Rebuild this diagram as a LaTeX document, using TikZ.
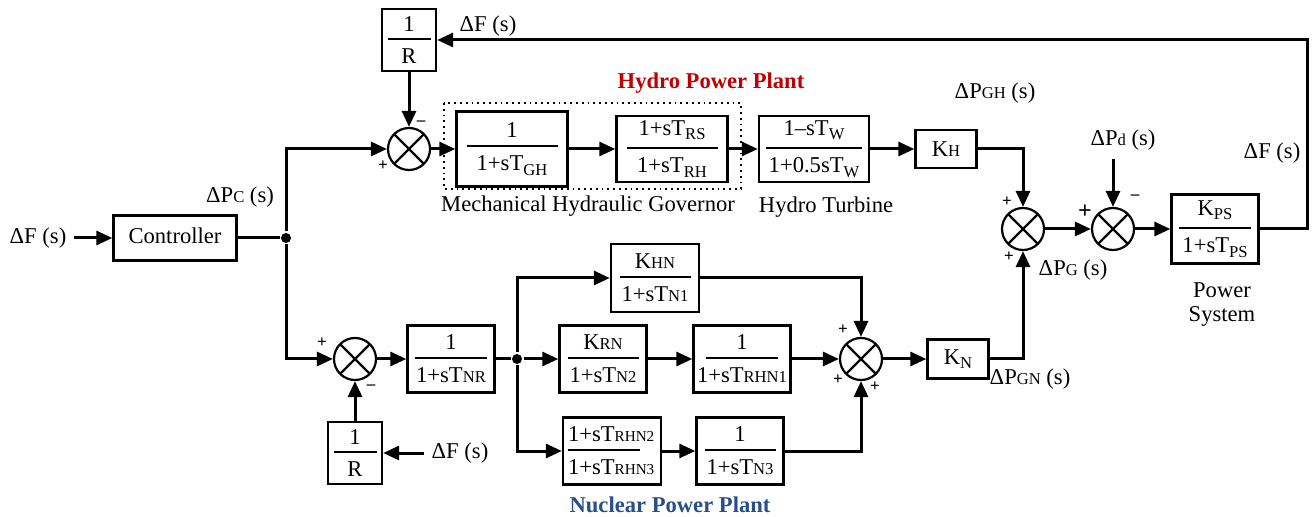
\documentclass[tikz,border=0pt]{standalone}
\usepackage{fontspec}
\setmainfont{Liberation Serif}
\usetikzlibrary{arrows.meta}
\newcommand{\nsz}{\fontsize{11.3}{13}\selectfont}
\newcommand{\sm}[1]{{\fontsize{8.3}{8.3}\selectfont #1}}
\newcommand{\smr}[1]{{\fontsize{7.6}{7.6}\selectfont #1}}
\newcommand{\lo}[1]{\raisebox{-0.45ex}{\fontsize{8.3}{8.3}\selectfont #1}}
\newcommand{\fr}[3]{\vbox{\hbox to #1{\hss#2\hss}\kern3.5pt\hrule height 1pt\kern4.5pt\hbox to #1{\hss#3\hss}}}
\definecolor{hydrored}{RGB}{192,0,0}
\definecolor{nucblue}{RGB}{38,79,140}
\begin{document}
\begin{tikzpicture}[x=0.5pt,y=-0.5pt,
  every node/.style={font=\nsz},
  blk/.style={draw,line width=1.2pt,inner sep=0pt},
  sumj/.style={circle,draw,line width=1.1pt,minimum size=21pt,inner sep=0pt,
    path picture={\draw[-,line width=1.1pt]
      (path picture bounding box.north west) -- (path picture bounding box.south east)
      (path picture bounding box.north east) -- (path picture bounding box.south west);}},
  dot/.style={circle,fill,inner sep=0pt,minimum size=5pt},
  sgn/.style={inner sep=0pt,font=\fontsize{8.5}{8.5}\selectfont\bfseries},
  line width=1.5pt, ->, >={Triangle[length=8pt,width=7pt]}
]
  \useasboundingbox (0,0) rectangle (1315,517);

  % controller and hydro path
  \node (dFin) at (38,238) {ΔF (s)};
  \node[blk,minimum width=61.5pt,minimum height=22.5pt] (ctrl) at (175,238) {\raisebox{2pt}{Controller}};
  \node[dot] (jc) at (286,238) {};
  \node (dPC) at (240,197) {ΔP\sm{C} (s)};

  \node[sumj] (sumH) at (409,149) {};
  \node[blk,minimum width=27pt,minimum height=31pt] (Rtop) at (409,40) {\fr{21.5pt}{1}{R}};
  \node (dFtop) at (488,26) {ΔF (s)};
  \node[sgn] (mH) at (421,123) {–};
  \node[sgn] (pH) at (383,166) {+};

  \draw[-,dotted,line width=0.9pt] (444,103) rectangle (741,189);
  \node[blk,minimum width=55.5pt,minimum height=37.5pt] (gov) at (512,149) {\fr{45.5pt}{1}{1+sT\lo{GH}}};
  \node[blk,minimum width=55.5pt,minimum height=33pt] (rh) at (672,149) {\fr{45.5pt}{1+sT\lo{RS}}{1+sT\lo{RH}}};
  \node[blk,minimum width=55pt,minimum height=33pt] (turb) at (814,149) {\fr{48pt}{1–sT\lo{W}}{1+0.5sT\lo{W}}};
  \node[font=\nsz\bfseries,text=hydrored] (hpp) at (711,83) {Hydro Power Plant};
  \node (mhg) at (588,206) {Mechanical Hydraulic Governor};
  \node (ht) at (826,207) {Hydro Turbine};
  \node[blk,minimum width=30.5pt,minimum height=19pt] (KH) at (946,149) {K\sm{H}};
  \node (dPGH) at (995,93) {ΔP\sm{GH} (s)};

  % power system
  \node[sumj] (sumG) at (1023,229) {};
  \node[sumj] (sumD) at (1113,229) {};
  \node[sgn] (pG1) at (1007,202) {+};
  \node[sgn] (pG2) at (1009,257) {+};
  \node[sgn,font=\fontsize{12}{12}\selectfont\bfseries] (pD) at (1085,212) {+};
  \node[sgn] (mD) at (1135,197) {–};
  \node (dPd) at (1123,140) {ΔP\sm{d} (s)};
  \coordinate (pd) at (1113,159);
  \node (dPG) at (1073,270) {ΔP\sm{G} (s)};
  \node[blk,minimum width=43.5pt,minimum height=34.5pt] (KPS) at (1215,229) {\fr{36pt}{K\lo{PS}}{1+sT\lo{PS}}};
  \node (dFr) at (1272,153) {ΔF (s)};
  \node[align=center,font=\fontsize{11.3}{12}\selectfont] (ps) at (1222,305) {Power\\System};
  \coordinate (fbk) at (1307,40);

  % nuclear path
  \node[sumj] (sumN) at (355,359) {};
  \node[sgn] (pN) at (322,343) {+};
  \node[sgn] (mN) at (371,387) {–};
  \node[blk,minimum width=27pt,minimum height=31pt] (Rbot) at (355,453) {\fr{21.5pt}{1}{R}};
  \node (dFb) at (460,453) {ΔF (s)};
  \node[blk,minimum width=43.5pt,minimum height=33.5pt] (nr) at (451,359) {\fr{36pt}{1}{1+sT\sm{NR}}};
  \node[dot] (jn) at (517,359) {};
  \node[blk,minimum width=44pt,minimum height=34pt] (khn) at (655,278) {\fr{35.5pt}{K\sm{HN}}{1+sT\sm{N1}}};
  \node[blk,minimum width=43.5pt,minimum height=33.5pt] (krn) at (603,359) {\fr{35.5pt}{K\sm{RN}}{1+sT\sm{N2}}};
  \node[blk,minimum width=48.5pt,minimum height=33.5pt] (rhn1) at (742,359) {\fr{36pt}{1}{1+sT\sm{RHN1}}};
  \node[blk,minimum width=49pt,minimum height=33.5pt] (rhn23) at (612,451) {\fr{36pt}{\makebox[36pt][l]{1+sT\smr{RHN2}}}{\makebox[36pt][l]{1+sT\smr{RHN3}}}\kern8pt};
  \node[blk,minimum width=43.5pt,minimum height=33.5pt] (n3) at (740,451) {\fr{35.5pt}{1}{1+sT\sm{N3}}};
  \node[sumj] (sumN2) at (861,359) {};
  \node[sgn] (pN1) at (843,330) {+};
  \node[sgn] (pN2) at (838,380) {+};
  \node[sgn] (pN3) at (875,387) {+};
  \node[blk,minimum width=30.5pt,minimum height=19.5pt] (KN) at (958,359) {K\lo{N}};
  \node (dPGN) at (1030,379) {ΔP\sm{GN} (s)};
  \node[font=\nsz\bfseries,text=nucblue] (npp) at (670,505) {Nuclear Power Plant};

  \draw (dFin) -- (ctrl);
  \draw[-] (ctrl) -- (jc);
  \draw (jc) |- (sumH);
  \draw (jc) |- (sumN);
  \draw (Rtop) -- (sumH);
  \draw (sumH) -- (gov);
  \draw (gov) -- (rh);
  \draw (rh) -- (turb);
  \draw (turb) -- (KH);
  \draw (KH) -| (sumG);
  \draw (sumG) -- (sumD);
  \draw (pd) -- (sumD);
  \draw (sumD) -- (KPS);
  \draw (KPS) -| (fbk) -- (Rtop);

  \draw (dFb) -- (Rbot);
  \draw (Rbot) -- (sumN);
  \draw (sumN) -- (nr);
  \draw[-] (nr) -- (jn);
  \draw (jn) |- (khn);
  \draw (jn) -- (krn);
  \draw (jn) |- (rhn23);
  \draw (krn) -- (rhn1);
  \draw (rhn1) -- (sumN2);
  \draw (rhn23) -- (n3);
  \draw (khn) -| (sumN2);
  \draw (n3) -| (sumN2);
  \draw (sumN2) -- (KN);
  \draw (KN) -| (sumG);
\end{tikzpicture}
\end{document}
